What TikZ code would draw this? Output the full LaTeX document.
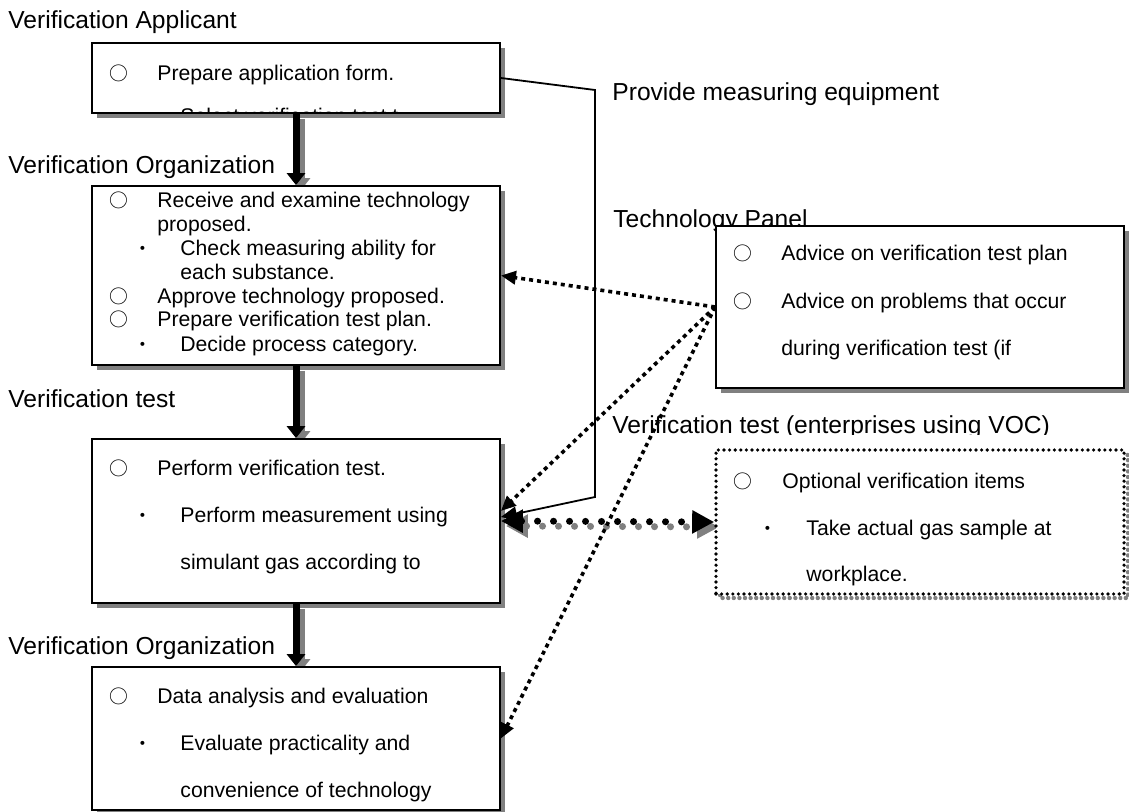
\documentclass[tikz,border=0pt]{standalone}
\usepackage{fontspec}
\setmainfont{Liberation Sans}
\newfontfamily\cjk{Noto Sans CJK JP}
\usepackage{tikz}
\usetikzlibrary{arrows.meta,shadows,backgrounds}
\newcommand{\hollow}{{\cjk ○}}
\newcommand{\kdot}{{\cjk ・}}

\begin{document}
\begin{tikzpicture}[x=0.5pt,y=-0.5pt,
  flowbox/.style={draw,line width=0.9pt,fill=white,inner sep=0pt,
    minimum width=204pt,
    drop shadow={shadow xshift=2.5pt,shadow yshift=-2.5pt,opacity=1,fill=gray}},
  optdots/.style={line width=1.8pt,dash pattern=on 0pt off 2.8pt,line cap=round},
  txt/.style={anchor=base west,inner sep=0pt,font=\fontsize{10.6}{12}\selectfont},
  sym/.style={anchor=base,inner sep=0pt,font=\fontsize{9.4}{12}\selectfont},
  lab/.style={anchor=base west,inner sep=0pt,font=\fontsize{12.3}{14}\selectfont},
  flowarrow/.style={line width=3.5pt,-{Triangle[length=6pt,width=9pt]}},
  dotarrow/.style={line width=3.5pt,dash pattern=on 0pt off 8pt,line cap=round,
    {Triangle[length=11pt,width=11pt]}-{Triangle[length=11pt,width=11pt]}},
  adviceline/.style={line width=1.8pt,dash pattern=on 2pt off 2pt,
    -{Triangle[length=7.5pt,width=6.5pt]}}]
  \useasboundingbox (0,0) rectangle (1129,812);

  % stage labels
  \node[lab] (applicantlabel) at (8,29) {Verification Applicant};
  \node[lab] (orglabel) at (8,174) {Verification Organization};
  \node[lab] (testlabel) at (8,408) {Verification test};
  \node[lab] (evallabel) at (8,654) {Verification Organization};
  \node[lab] (equiplabel) at (612,101) {Provide measuring equipment};
  \node[lab] (panellabel) at (613,228) {Technology Panel};
  \begin{scope}
    \clip (600,400) rectangle (1129,434);
    \node[lab] (voclabel) at (612,433) {Verification test (enterprises using VOC)};
  \end{scope}

  % boxes
  \node[flowbox,minimum height=35pt] (apply) at (296,78) {};
  \node[flowbox,minimum height=89.5pt] (exam) at (296,275.5) {};
  \node[flowbox,minimum height=82pt] (test) at (296,521) {};
  \node[flowbox,minimum height=71.5pt] (eval) at (296,738.5) {};
  \node[flowbox,minimum height=81pt] (panel) at (920,307) {};
  \draw[optdots,gray,line width=2.2pt] (720,455) rectangle (1128,598);
  \node[optdots,draw,fill=white,inner sep=0pt,minimum width=204pt,
        minimum height=72pt] (option) at (920,522) {};

  % applicant
  \node[sym] (apply1m) at (119,81) {\hollow};
  \node[txt] (apply1) at (157,81) {Prepare application form.};
  \begin{scope}
    \clip (92,43) rectangle (500,113);
    \node[txt] (apply2) at (180,124) {Select verification test t};
  \end{scope}

  % examination
  \node[sym] (exam1m) at (119,208) {\hollow};
  \node[txt] (exam1) at (157,208) {Receive and examine technology};
  \node[txt] (exam2) at (157,232) {proposed.};
  \node[sym] (exam3m) at (143,256) {\kdot};
  \node[txt] (exam3) at (180,256) {Check measuring ability for};
  \node[txt] (exam4) at (180,280) {each substance.};
  \node[sym] (exam5m) at (119,304) {\hollow};
  \node[txt] (exam5) at (157,304) {Approve technology proposed.};
  \node[sym] (exam6m) at (119,327) {\hollow};
  \node[txt] (exam6) at (157,327) {Prepare verification test plan.};
  \node[sym] (exam7m) at (143,352) {\kdot};
  \node[txt] (exam7) at (180,352) {Decide process category.};

  % test
  \node[sym] (test1m) at (119,475) {\hollow};
  \node[txt] (test1) at (157,475) {Perform verification test.};
  \node[sym] (test2m) at (143,522) {\kdot};
  \node[txt] (test2) at (180,522) {Perform measurement using};
  \node[txt] (test3) at (180,569) {simulant gas according to};

  % evaluation
  \node[sym] (eval1m) at (119,703) {\hollow};
  \node[txt] (eval1) at (157,703) {Data analysis and evaluation};
  \node[sym] (eval2m) at (143,750) {\kdot};
  \node[txt] (eval2) at (180,750) {Evaluate practicality and};
  \node[txt] (eval3) at (180,797) {convenience of technology};

  % panel
  \node[sym] (panel1m) at (743,261) {\hollow};
  \node[txt] (panel1) at (781,261) {Advice on verification test plan};
  \node[sym] (panel2m) at (743,309) {\hollow};
  \node[txt] (panel2) at (781,309) {Advice on problems that occur};
  \node[txt] (panel3) at (781,356) {during verification test (if};

  % optional items
  \node[sym] (option1m) at (743,488) {\hollow};
  \node[txt] (option1) at (782,488) {Optional verification items};
  \node[sym] (option2m) at (768,535) {\kdot};
  \node[txt] (option2) at (806,535) {Take actual gas sample at};
  \node[txt] (option3) at (806,581) {workplace.};

  % flow
  \begin{scope}[on background layer]
    \draw[flowarrow,gray,transform canvas={shift={(2.5pt,-2.5pt)}}]
      (apply.south) -- (exam.north);
    \draw[flowarrow,gray,transform canvas={shift={(2.5pt,-2.5pt)}}]
      (exam.south) -- (test.north);
    \draw[flowarrow,gray,transform canvas={shift={(2.5pt,-2.5pt)}}]
      (test.south) -- (eval.north);
    \draw[dotarrow,gray,transform canvas={shift={(2.5pt,-2.5pt)}}]
      (test.east) -- (option.west);
  \end{scope}
  \draw[flowarrow] (apply.south) -- (exam.north);
  \draw[flowarrow] (exam.south) -- (test.north);
  \draw[flowarrow] (test.south) -- (eval.north);
  \draw[dotarrow] (test.east) -- (option.west);

  % equipment
  \coordinate (equiptop) at (595,90);
  \coordinate (equipfoot) at (595,497);
  \draw[line width=0.9pt,-{Triangle[length=8pt,width=7pt]}]
    (apply.east) -- (equiptop) -- (equipfoot) -- ([yshift=2pt]test.east);

  % advice
  \draw[adviceline] (panel.west) -- (exam.east);
  \draw[adviceline] (panel.west) -- ([yshift=5pt]test.east);
  \draw[adviceline] (panel.west) -- (eval.east);
\end{tikzpicture}
\end{document}
